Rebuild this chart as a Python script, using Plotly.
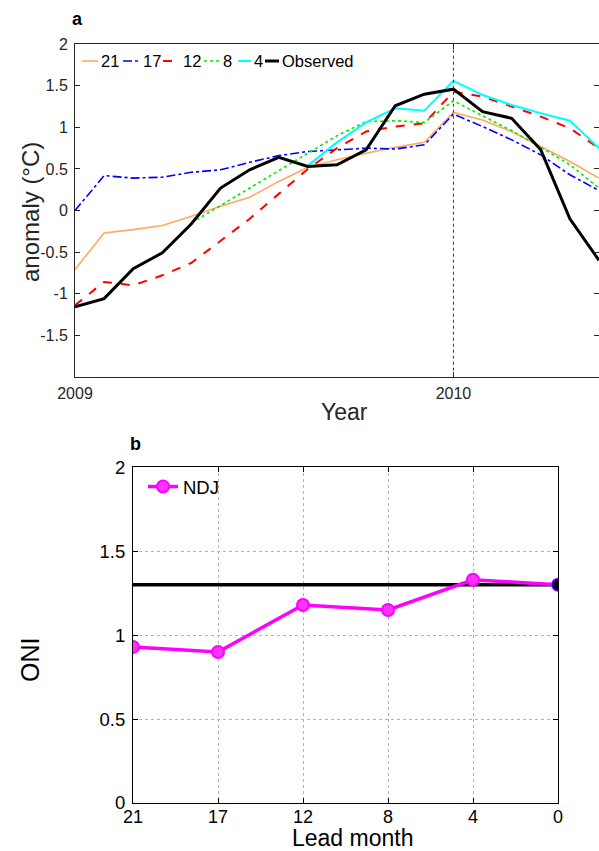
import plotly.graph_objects as go

# ---------------- data: panel a ----------------
month_idx = list(range(19))
year_tick_idx = [0, 13]
year_tick_text = ["2009", "2010"]

lead21 = [-0.71, -0.27, -0.23, -0.18, -0.07, 0.05, 0.16, 0.35, 0.52, 0.61, 0.69, 0.76, 0.82, 1.18, 1.09, 0.95, 0.77, 0.59, 0.39]
lead17 = [0.00, 0.42, 0.39, 0.40, 0.46, 0.49, 0.58, 0.66, 0.71, 0.73, 0.75, 0.74, 0.79, 1.16, 1.01, 0.85, 0.67, 0.43, 0.24]
lead12 = [-1.14, -0.86, -0.90, -0.78, -0.63, -0.36, -0.10, 0.20, 0.50, 0.75, 0.95, 1.01, 1.05, 1.43, 1.37, 1.25, 1.13, 0.99, 0.75]
lead8 = [None, None, None, None, -0.15, 0.06, 0.27, 0.48, 0.70, 0.90, 1.07, 1.08, 1.06, 1.32, 1.14, 0.96, 0.76, 0.55, 0.27]
lead4 = [None, None, None, None, None, None, None, None, 0.54, 0.82, 1.06, 1.23, 1.20, 1.56, 1.39, 1.27, 1.17, 1.08, 0.75]
observed = [-1.16, -1.06, -0.70, -0.51, -0.16, 0.27, 0.49, 0.64, 0.53, 0.55, 0.73, 1.26, 1.40, 1.46, 1.19, 1.11, 0.73, -0.10, -0.60]

# ---------------- data: panel b ----------------
lead_labels = ["21", "17", "12", "8", "4", "0"]
ndj_oni = [0.93, 0.90, 1.18, 1.15, 1.33, 1.30]
observed_oni = 1.30

FONT = "Liberation Sans, Arial, Helvetica, sans-serif"
W, H = 599, 851

series_a = [
    ("21", lead21, dict(color="#FFA95E", width=1.6, dash="solid")),
    ("17", lead17, dict(color="#0000FF", width=1.6, dash="dashdot")),
    ("12", lead12, dict(color="#FF0000", width=2.0, dash="dash")),
    ("8", lead8, dict(color="#00EE00", width=1.6, dash="dot")),
    ("4", lead4, dict(color="#00FFFF", width=2.0, dash="solid")),
    ("Observed", observed, dict(color="#000000", width=3.0, dash="solid")),
]

fig = go.Figure()
for name, ys, ln in series_a:
    fig.add_trace(go.Scatter(x=month_idx, y=ys, mode="lines", name=name, line=ln,
                             showlegend=False, xaxis="x", yaxis="y"))

lead_idx = list(range(len(lead_labels)))
fig.add_trace(go.Scatter(x=lead_idx, y=[observed_oni] * len(lead_idx), mode="lines",
                         line=dict(color="black", width=3.5), showlegend=False,
                         xaxis="x2", yaxis="y2"))
fig.add_trace(go.Scatter(x=lead_idx, y=ndj_oni, mode="lines+markers", name="NDJ",
                         line=dict(color="#FF00FF", width=3.5),
                         marker=dict(symbol="circle", size=12, color="#FF33FF",
                                     line=dict(color="#FF00FF", width=2)),
                         showlegend=True, xaxis="x2", yaxis="y2"))
fig.add_trace(go.Scatter(x=[lead_idx[-1]], y=[observed_oni], mode="markers",
                         marker=dict(symbol="circle", size=11, color="black",
                                     line=dict(color="#0000FF", width=1.5)),
                         showlegend=False, xaxis="x2", yaxis="y2"))

# domains in pixels
ax_a = dict(l=75, r=599, t=44.3, b=376.7)
ax_b = dict(l=133, r=558, t=467.3, b=803)

def dom_x(d):
    return [d["l"] / W, d["r"] / W]

def dom_y(d):
    return [1 - d["b"] / H, 1 - d["t"] / H]

axcol_a = "#262626"
fig.update_layout(
    template="none",
    width=W, height=H, margin=dict(l=0, r=0, t=0, b=0, pad=0, autoexpand=False),
    paper_bgcolor="white", plot_bgcolor="white",
    font=dict(family=FONT, color="#262626"),
    xaxis=dict(domain=dom_x(ax_a), range=[0, 18], tickvals=year_tick_idx, ticktext=year_tick_text,
               showgrid=False, zeroline=False, showline=True, linecolor=axcol_a, linewidth=1,
               mirror="ticks", ticks="inside", ticklen=5, tickcolor=axcol_a, automargin=False,
               tickfont=dict(size=16, color="#262626"), ticklabelstandoff=2),
    yaxis=dict(domain=dom_y(ax_a), range=[-2, 2], tickvals=[-1.5, -1, -0.5, 0, 0.5, 1, 1.5, 2],
               ticktext=["-1.5", "-1", "-0.5", "0", "0.5", "1", "1.5", "2"],
               showgrid=False, zeroline=False, showline=True, linecolor=axcol_a, linewidth=1,
               mirror="ticks", ticks="inside", ticklen=5, tickcolor=axcol_a, automargin=False,
               tickfont=dict(size=16, color="#262626"), ticklabelstandoff=3),
    xaxis2=dict(domain=dom_x(ax_b), range=[0, 5], tickvals=lead_idx, ticktext=lead_labels,
                showgrid=True, gridcolor="#b5b5b5", griddash="dot", gridwidth=1, zeroline=False,
                showline=True, linecolor="black", linewidth=1.2, mirror="ticks", ticks="inside",
                ticklen=5, tickcolor="black", tickfont=dict(size=18, color="black"),
                ticklabelstandoff=-3, anchor="y2", automargin=False),
    yaxis2=dict(domain=dom_y(ax_b), range=[0, 2], tickvals=[0, 0.5, 1, 1.5, 2],
                ticktext=["0", "0.5", "1", "1.5", "2"],
                showgrid=True, gridcolor="#b5b5b5", griddash="dot", gridwidth=1, zeroline=False,
                showline=True, linecolor="black", linewidth=1.2, mirror="ticks", ticks="inside",
                ticklen=5, tickcolor="black", tickfont=dict(size=18.5, color="black"),
                ticklabelstandoff=3, anchor="x2", automargin=False),
    legend=dict(x=143 / W, y=1 - 487 / H, xanchor="left", yanchor="middle",
                bgcolor="rgba(0,0,0,0)", borderwidth=0,
                font=dict(family=FONT, size=18.5, color="black")),
)

# vertical dotted line at 2010
fig.add_shape(type="line", xref="x", yref="y domain", x0=year_tick_idx[1], x1=year_tick_idx[1],
              y0=0, y1=1, line=dict(color="#333333", width=1, dash="dot"))

# manual legend for panel a (horizontal, inside top-left)
leg_y = 61
leg_items = [  # (line x0, line x1, text x) in pixels
    (82, 98, 99), (123, 140, 141), (163, 180, 181), (204, 220, 221), (238, 251, 252), (265, 279, 280)
]
for (name, ys, ln), (lx0, lx1, tx) in zip(series_a, leg_items):
    fig.add_shape(type="line", xref="paper", yref="paper", x0=lx0 / W, x1=lx1 / W,
                  y0=1 - leg_y / H, y1=1 - leg_y / H,
                  line=dict(color=ln["color"], width=ln["width"], dash=ln["dash"]))
    fig.add_annotation(text=name, xref="paper", yref="paper", x=tx / W, y=1 - leg_y / H,
                       xanchor="left", yanchor="middle", showarrow=False,
                       font=dict(family=FONT, size=16.5, color="black"))

# axis titles and panel letters
def txt(s, x, y, size, angle=0, bold=False, color="#262626"):
    fig.add_annotation(text=("<b>%s</b>" % s) if bold else s, xref="paper", yref="paper",
                       x=x / W, y=1 - y / H, xanchor="center", yanchor="middle",
                       showarrow=False, textangle=angle,
                       font=dict(family=FONT, size=size, color=color))

txt("anomaly (°C)", 30, 212, 24, angle=-90)
txt("Year", 344, 412, 23)
txt("a", 77, 19, 18, bold=True, color="black")
txt("ONI", 30, 660, 25, angle=-90, color="black")
txt("Lead month", 352, 838, 23, color="black")
txt("b", 135, 444, 18, bold=True, color="black")

fig.write_html("out.html", config={"displayModeBar": False},
               post_script="document.body.style.margin='0';document.body.style.overflow='hidden';")
